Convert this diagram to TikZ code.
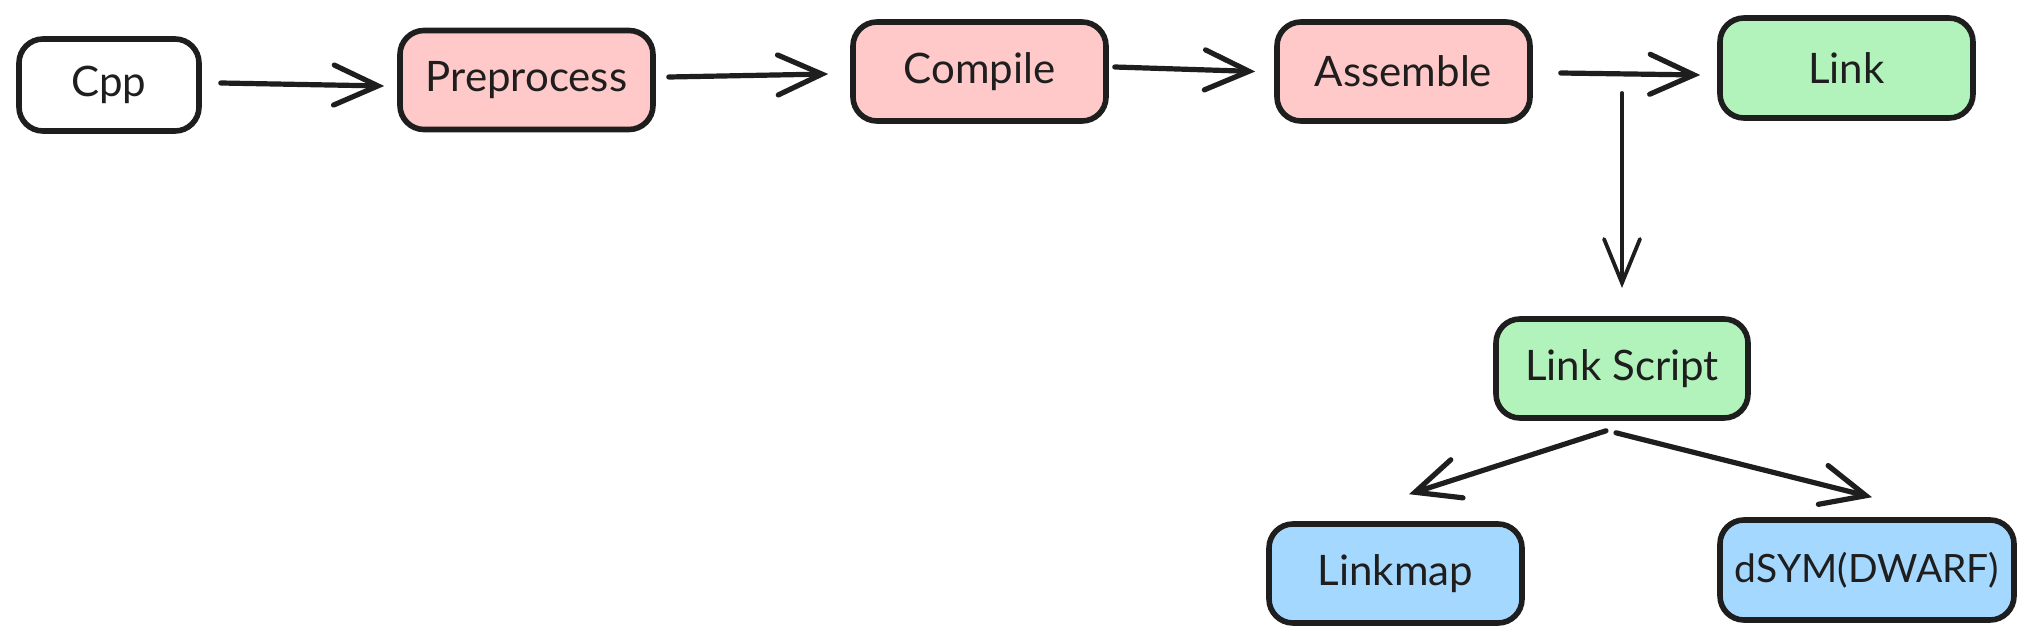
\documentclass[tikz,border=0pt]{standalone}
\usepackage{fontspec}
\setmainfont{Lato}
\usetikzlibrary{arrows.meta,calc}
\definecolor{ink}{HTML}{1E1E1E}
\definecolor{pinkf}{HTML}{FFC9C9}
\definecolor{greenf}{HTML}{B2F2BB}
\definecolor{bluef}{HTML}{A5D8FF}
\tikzset{
  box/.style={draw=ink, line width=2.8pt, rounded corners=12pt, minimum width=126.5pt,
    minimum height=49.5pt, inner sep=0pt, font=\fontsize{21}{25}\selectfont, text=ink},
  arr/.style={draw=ink, line width=2.6pt, line cap=round,
    -{Straight Barb[length=22pt,width=20pt,line cap=round]}},
  thinarr/.style={draw=ink, line width=1.9pt, line cap=round,
    -{Straight Barb[length=22pt,width=18pt,line cap=round]}}
}
\begin{document}
\begin{tikzpicture}[x=0.5pt,y=-0.5pt]
\useasboundingbox[fill=white] (0,0) rectangle (2035,642);
\node[box, fill=white, minimum width=90pt, minimum height=46pt] (cpp) at (109,85) {Cpp};
\node[box, fill=pinkf] (pre) at (526.5,80) {Preprocess};
\node[box, fill=pinkf] (comp) at (979.5,71.5) {Compile};
\node[box, fill=pinkf] (asm) at (1403.5,71.5) {Assemble};
\node[box, fill=greenf, minimum height=50pt] (link) at (1846.5,68) {Link};
\node[box, fill=greenf, minimum width=126pt] (ls) at (1622,368.5) {Link Script};
\node[box, fill=bluef] (lm) at (1395.5,573.5) {Linkmap};
\node[box, fill=bluef, minimum width=147pt, minimum height=50pt, font=\fontsize{19.5}{24}\selectfont] (ds) at (1867,570) {dSYM(DWARF)};
\coordinate (vs) at (1622,93);
\coordinate (ve) at (1622,288);

\draw[arr] ($(cpp.east)+(19,-2)$) -- ($(pre.west)+(-13,6)$);
\draw[arr] ($(pre.east)+(13,-3)$) -- ($(comp.west)+(-22,2.5)$);
\draw[arr] ($(comp.east)+(6,-4.5)$) -- ($(asm.west)+(-19,0)$);
\draw[arr] ($(asm.east)+(28,1.5)$) -- ($(link.west)+(-17,7)$);
\draw[thinarr] (vs) -- (ve);
\draw[arr] ($(ls.south)+(-16,10)$) -- ($(lm.north)+(13.5,-27)$);
\draw[arr] ($(ls.south)+(-6,12)$) -- ($(ds.north)+(5,-20)$);
\end{tikzpicture}
\end{document}
